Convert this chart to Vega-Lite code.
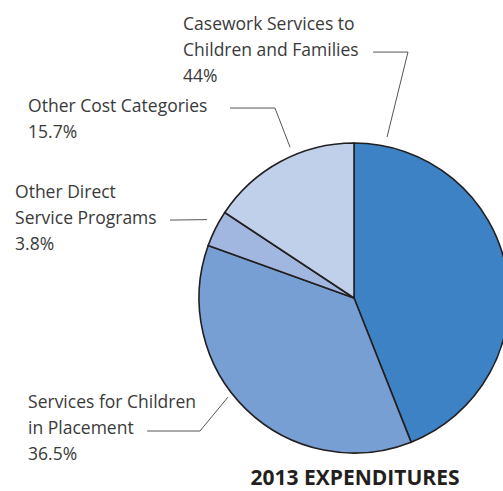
{
  "$schema": "https://vega.github.io/schema/vega-lite/v6.json",
  "width": 503,
  "height": 491,
  "padding": 0,
  "autosize": {"type": "none"},
  "background": "white",
  "config": {"view": {"stroke": null}},
  "datasets": {
    "slices": [
      {"category": "Casework Services to Children and Families", "percent": 44, "order": 1},
      {"category": "Services for Children in Placement", "percent": 36.5, "order": 2},
      {"category": "Other Direct Service Programs", "percent": 3.8, "order": 3},
      {"category": "Other Cost Categories", "percent": 15.7, "order": 4}
    ],
    "labels": [
      {"lines": ["Casework Services to", "Children and Families", "44%"], "lx": -110.3, "ly": 172.9},
      {"lines": ["Other Cost Categories", "15.7%"], "lx": -210.3, "ly": 120.0},
      {"lines": ["Other Direct", "Service Programs", "3.8%"], "lx": -218.7, "ly": 64.5},
      {"lines": ["Services for Children", "in Placement", "36.5%"], "lx": -210.3, "ly": -71.0}
    ],
    "leaders": [
      {"g": "casework", "seq": 1, "lx": 12.3, "ly": 158.7},
      {"g": "casework", "seq": 2, "lx": 34.8, "ly": 158.7},
      {"g": "casework", "seq": 3, "lx": 21.3, "ly": 103.9},
      {"g": "othercost", "seq": 1, "lx": -80.0, "ly": 122.6},
      {"g": "othercost", "seq": 2, "lx": -51.0, "ly": 122.6},
      {"g": "othercost", "seq": 3, "lx": -41.3, "ly": 97.4},
      {"g": "otherdirect", "seq": 1, "lx": -118.7, "ly": 50.3},
      {"g": "otherdirect", "seq": 2, "lx": -94.8, "ly": 50.6},
      {"g": "placement", "seq": 1, "lx": -133.5, "ly": -85.8},
      {"g": "placement", "seq": 2, "lx": -99.4, "ly": -85.8},
      {"g": "placement", "seq": 3, "lx": -81.3, "ly": -63.9}
    ],
    "title": [
      {"text": "2013 EXPENDITURES", "lx": 0.6, "ly": -120.6}
    ]
  },
  "layer": [
    {
      "data": {"name": "slices"},
      "mark": {"type": "arc", "radius": 155, "stroke": "#231f20", "strokeWidth": 1.6},
      "encoding": {
        "theta": {"field": "percent", "type": "quantitative", "stack": true},
        "order": {"field": "order", "type": "quantitative"},
        "x": {"datum": 0, "type": "quantitative", "scale": {"domain": [-228.4, 96.1], "nice": false, "zero": false}, "axis": null},
        "y": {"datum": 0, "type": "quantitative", "scale": {"domain": [-124.5, 192.3], "nice": false, "zero": false}, "axis": null},
        "color": {
          "field": "category",
          "type": "nominal",
          "legend": null,
          "scale": {
            "domain": ["Casework Services to Children and Families", "Services for Children in Placement", "Other Direct Service Programs", "Other Cost Categories"],
            "range": ["#3c82c4", "#789fd3", "#a1b7df", "#c0d0ea"]
          }
        }
      }
    },
    {
      "data": {"name": "leaders"},
      "mark": {"type": "line", "color": "#555555", "strokeWidth": 1},
      "encoding": {
        "x": {"field": "lx", "type": "quantitative"},
        "y": {"field": "ly", "type": "quantitative"},
        "detail": {"field": "g"},
        "order": {"field": "seq", "type": "quantitative"}
      }
    },
    {
      "data": {"name": "labels"},
      "mark": {"type": "text", "align": "left", "baseline": "alphabetic", "font": "Open Sans", "fontSize": 17.5, "lineHeight": 26, "color": "#3a3a3a"},
      "encoding": {
        "x": {"field": "lx", "type": "quantitative"},
        "y": {"field": "ly", "type": "quantitative"},
        "text": {"field": "lines"}
      }
    },
    {
      "data": {"name": "title"},
      "mark": {"type": "text", "align": "center", "baseline": "alphabetic", "font": "Open Sans", "fontSize": 21, "fontWeight": "bold", "color": "#231f20"},
      "encoding": {
        "x": {"field": "lx", "type": "quantitative"},
        "y": {"field": "ly", "type": "quantitative"},
        "text": {"field": "text"}
      }
    }
  ]
}
